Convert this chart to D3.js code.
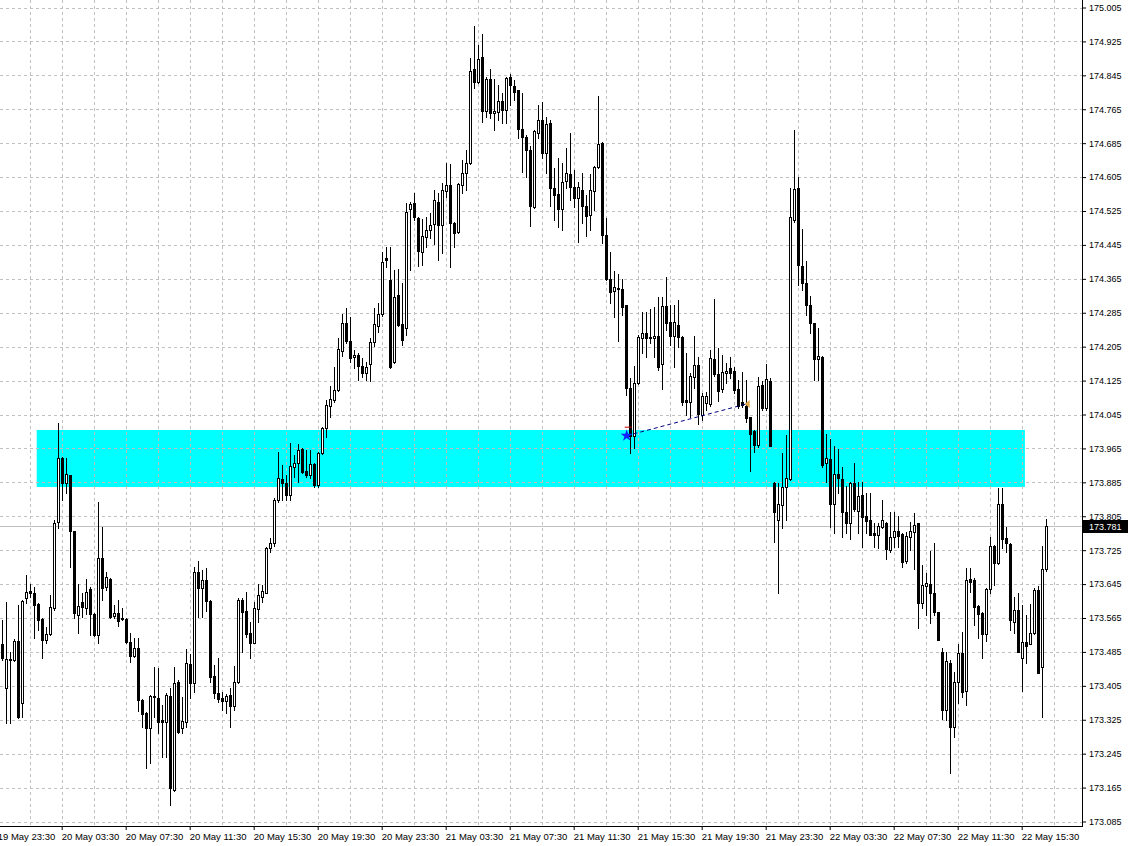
<!DOCTYPE html>
<html><head><meta charset="utf-8">
<script src="https://cdn.jsdelivr.net/npm/d3@7"></script>
<style>
html,body{margin:0;padding:0;background:#fff;}
svg{display:block;}
text{font-family:"Liberation Sans",Arial,sans-serif;}
</style></head><body>
<svg id="chart" width="1128" height="846"></svg>
<script>
// ---- data (15-minute candles, 19 May 23:45 .. 22 May 17:00) ----
const openP = [
173.504,173.400,173.469,173.466,173.511,173.365,173.613,173.629,173.624,173.599,
173.563,173.513,173.528,173.589,173.791,173.943,173.884,173.902,173.770,173.573,
173.603,173.589,173.634,173.575,173.525,173.707,173.639,173.658,173.570,173.577,
173.565,173.563,173.509,173.476,173.494,173.372,173.341,173.306,173.379,173.377,
173.325,173.320,173.381,173.160,173.414,173.306,173.320,173.457,173.412,173.674,
173.636,173.655,173.606,173.429,173.389,173.377,173.370,173.384,173.358,173.414,
173.608,173.582,173.530,173.506,173.587,173.615,173.624,173.730,173.742,173.844,
173.893,173.884,173.856,173.921,173.931,173.964,173.912,173.903,173.929,173.879,
173.954,174.013,174.065,174.079,174.103,174.195,174.261,174.219,174.181,174.186,
174.160,174.143,174.164,174.216,174.254,174.282,174.414,174.362,174.169,174.327,
174.259,174.249,174.530,174.544,174.509,174.428,174.464,174.480,174.495,174.546,
174.492,174.572,174.587,174.497,174.476,174.587,174.615,174.638,174.860,174.830,
174.888,174.761,174.836,174.756,174.759,174.785,174.763,174.841,174.820,174.810,
174.719,174.700,174.669,174.535,174.709,174.740,174.662,174.733,174.580,174.565,
174.530,174.596,174.613,174.582,174.556,174.575,174.537,174.516,174.572,174.629,
174.686,174.469,174.365,174.336,174.344,174.341,174.303,174.108,173.995,174.120,
174.226,174.237,174.228,174.226,174.231,174.164,174.301,174.263,174.230,174.256,
174.228,174.079,174.075,174.134,174.162,174.044,174.072,174.070,174.176,174.141,
174.105,174.143,174.155,174.148,174.105,174.075,174.065,174.039,174.006,173.973,
174.115,174.060,174.124,173.884,173.796,173.832,173.874,173.893,174.504,174.580,
174.395,174.355,174.303,174.261,174.176,174.181,173.931,173.940,173.834,173.905,
173.893,173.815,173.789,173.884,173.818,173.856,173.806,173.796,173.766,173.761,
173.780,173.789,173.726,173.756,173.770,173.763,173.700,173.756,173.768,173.789,
173.601,173.641,173.646,173.624,173.579,173.485,173.348,173.459,173.308,173.414,
173.483,173.393,173.658,173.655,173.594,173.577,173.528,173.634,173.735,173.695,
173.834,173.754,173.740,173.556,173.584,173.471,173.509,173.504,173.530,173.631,
173.450,173.681];
const highP = [
173.561,173.603,173.485,173.516,173.596,173.607,173.667,173.646,173.639,173.601,
173.565,173.544,173.619,173.796,174.025,173.945,173.943,173.903,173.771,173.646,
173.624,173.658,173.639,173.577,173.839,173.780,173.674,173.659,173.596,173.608,
173.589,173.565,173.530,173.518,173.518,173.374,173.344,173.384,173.450,173.447,
173.360,173.389,173.400,173.450,173.419,173.379,173.492,173.480,173.686,173.700,
173.679,173.683,173.607,173.454,173.471,173.391,173.386,173.400,173.452,173.613,
173.613,173.626,173.556,173.603,173.646,173.643,173.733,173.754,173.848,173.957,
173.926,173.903,173.978,173.950,173.976,173.966,173.961,173.961,173.931,173.957,
174.016,174.079,174.112,174.157,174.226,174.282,174.296,174.275,174.197,174.190,
174.179,174.169,174.226,174.296,174.308,174.429,174.440,174.440,174.386,174.388,
174.355,174.544,174.547,174.568,174.510,174.506,174.511,174.520,174.575,174.568,
174.591,174.638,174.636,174.499,174.591,174.645,174.669,174.886,174.962,174.917,
174.943,174.841,174.860,174.836,174.822,174.804,174.841,174.848,174.834,174.811,
174.804,174.705,174.679,174.716,174.775,174.782,174.747,174.740,174.627,174.650,
174.638,174.674,174.709,174.622,174.594,174.615,174.563,174.612,174.631,174.796,
174.688,174.509,174.429,174.384,174.377,174.365,174.304,174.131,174.160,174.233,
174.287,174.287,174.294,174.299,174.322,174.322,174.370,174.303,174.303,174.315,
174.229,174.190,174.143,174.231,174.181,174.096,174.098,174.197,174.317,174.202,
174.186,174.167,174.181,174.157,174.127,174.146,174.127,174.040,174.009,174.134,
174.124,174.164,174.131,173.886,173.884,173.954,173.997,174.579,174.716,174.605,
174.483,174.407,174.325,174.262,174.249,174.182,173.999,173.988,173.971,173.964,
173.921,173.877,173.886,173.931,173.886,173.886,173.860,173.860,173.789,173.789,
173.844,173.791,173.815,173.815,173.806,173.766,173.768,173.791,173.813,173.790,
173.690,173.672,173.723,173.742,173.580,173.495,173.485,173.466,173.438,173.504,
173.532,173.683,173.683,173.660,173.596,173.579,173.636,173.756,173.737,173.872,
173.872,173.780,173.741,173.615,173.624,173.596,173.573,173.599,173.636,173.641,
173.735,173.799];
const lowP = [
173.466,173.318,173.318,173.464,173.329,173.331,173.601,173.615,173.518,173.537,
173.471,173.506,173.525,173.584,173.777,173.844,173.860,173.686,173.565,173.530,
173.568,173.575,173.525,173.523,173.506,173.608,173.631,173.565,173.565,173.547,
173.561,173.506,173.461,173.473,173.346,173.308,173.211,173.223,173.331,173.294,
173.237,173.237,173.124,173.158,173.294,173.294,173.308,173.377,173.391,173.568,
173.568,173.582,173.414,173.377,173.367,173.348,173.341,173.308,173.348,173.412,
173.485,173.521,173.471,173.505,173.556,173.603,173.623,173.721,173.735,173.839,
173.844,173.844,173.843,173.898,173.886,173.907,173.898,173.896,173.874,173.874,
173.953,173.992,174.039,174.074,174.101,174.183,174.214,174.169,174.155,174.127,
174.134,174.127,174.124,174.207,174.240,174.278,174.393,174.155,174.167,174.254,
174.209,174.233,174.386,174.504,174.395,174.398,174.440,174.462,174.447,174.409,
174.426,174.558,174.393,174.440,174.473,174.568,174.575,174.636,174.815,174.827,
174.735,174.747,174.745,174.716,174.740,174.733,174.733,174.775,174.787,174.697,
174.617,174.605,174.490,174.532,174.697,174.650,174.615,174.537,174.504,174.487,
174.480,174.580,174.551,174.535,174.452,174.497,174.466,174.480,174.527,174.627,
174.450,174.362,174.308,174.275,174.219,174.280,174.091,173.954,173.966,174.117,
174.190,174.181,174.214,174.181,174.150,174.105,174.244,174.209,174.157,174.204,
174.067,174.044,174.039,174.108,174.023,174.032,174.056,174.065,174.136,174.077,
174.098,174.120,174.131,174.096,174.060,174.063,174.028,173.912,173.957,173.968,
174.056,174.056,173.970,173.744,173.624,173.777,173.796,173.891,174.499,174.351,
174.339,174.280,174.237,174.127,174.127,173.921,173.886,173.780,173.766,173.860,
173.756,173.766,173.752,173.818,173.766,173.733,173.766,173.760,173.733,173.730,
173.777,173.704,173.721,173.733,173.733,173.686,173.695,173.726,173.681,173.542,
173.589,173.573,173.554,173.573,173.512,173.327,173.325,173.200,173.285,173.365,
173.379,173.360,173.626,173.549,173.518,173.471,173.511,173.624,173.643,173.693,
173.730,173.721,173.537,173.530,173.484,173.393,173.459,173.503,173.527,173.435,
173.331,173.676];
const closeP = [
173.471,173.469,173.466,173.511,173.331,173.606,173.626,173.624,173.596,173.561,
173.513,173.528,173.591,173.789,173.943,173.884,173.905,173.770,173.577,173.594,
173.591,173.626,173.575,173.525,173.707,173.636,173.662,173.568,173.577,173.559,
173.563,173.509,173.476,173.494,173.372,173.339,173.306,173.381,173.381,173.320,
173.320,173.384,173.164,173.412,173.297,173.322,173.459,173.412,173.674,173.636,
173.655,173.606,173.426,173.389,173.374,173.370,173.381,173.358,173.414,173.608,
173.579,173.528,173.506,173.589,173.619,173.629,173.730,173.742,173.844,173.896,
173.884,173.856,173.924,173.931,173.961,173.910,173.903,173.929,173.879,173.954,
174.013,174.067,174.081,174.103,174.200,174.261,174.219,174.179,174.186,174.160,
174.143,174.157,174.216,174.259,174.282,174.405,174.409,174.157,174.322,174.256,
174.221,174.523,174.542,174.511,174.431,174.466,174.480,174.492,174.551,174.492,
174.575,174.587,174.497,174.473,174.589,174.615,174.638,174.855,174.830,174.884,
174.761,174.836,174.756,174.761,174.785,174.763,174.839,174.822,174.806,174.719,
174.700,174.669,174.537,174.714,174.740,174.662,174.730,174.580,174.563,174.530,
174.594,174.615,174.582,174.556,174.582,174.537,174.513,174.575,174.629,174.683,
174.469,174.365,174.334,174.346,174.341,174.299,174.108,173.995,174.120,174.228,
174.237,174.226,174.226,174.231,174.157,174.301,174.261,174.230,174.263,174.228,
174.075,174.075,174.136,174.162,174.046,174.089,174.089,174.179,174.141,174.101,
174.146,174.148,174.143,174.103,174.065,174.067,174.037,173.999,173.973,174.112,
174.060,174.129,173.971,173.815,173.834,173.874,173.896,174.511,174.577,174.398,
174.355,174.303,174.261,174.176,174.183,173.926,173.943,173.834,173.905,173.896,
173.815,173.789,173.884,173.822,173.853,173.803,173.794,173.761,173.761,173.782,
173.796,173.728,173.756,173.770,173.759,173.697,173.759,173.770,173.785,173.601,
173.643,173.648,173.624,173.579,173.513,173.348,173.464,173.308,173.414,173.483,
173.391,173.655,173.650,173.591,173.575,173.528,173.634,173.735,173.695,173.834,
173.752,173.742,173.561,173.584,173.485,173.509,173.499,173.530,173.631,173.436,
173.681,173.781];

const priceTicks = [175.005,174.925,174.845,174.765,174.685,174.605,174.525,174.445,174.365,
  174.285,174.205,174.125,174.045,173.965,173.885,173.805,173.725,173.645,173.565,173.485,
  173.405,173.325,173.245,173.165,173.085];
const timeLabels = ["19 May 23:30","20 May 03:30","20 May 07:30","20 May 11:30","20 May 15:30",
  "20 May 19:30","20 May 23:30","21 May 03:30","21 May 07:30","21 May 11:30","21 May 15:30",
  "21 May 19:30","21 May 23:30","22 May 03:30","22 May 07:30","22 May 11:30","22 May 15:30"];
const timeLabelBars = [-1,15,31,47,63,79,95,111,127,143,159,175,191,207,223,239,255];
const currentPrice = 173.781;
// support zone rectangle: [startBar, endBar], [top price, bottom price]
const zoneBars = [8.75, 255.8];
const zonePrices = [174.0085, 173.874];
// dashed trend line: bars and prices
const trendBars = [156.25, 186.25];
const trendPrices = [173.995, 174.070];

// ---- drawing ----
const W = 1128, H = 846, plotR = 1082, plotB = 826;
const svg = d3.select("#chart");
svg.append("rect").attr("width", W).attr("height", H).attr("fill", "#fff");

const x = d3.scaleLinear().domain([0, 261]).range([1.7, 1045.7]);
const y = d3.scaleLinear().domain([173.085, 175.005]).range([821.5, 7.5]);
const px = v => Math.round(x(v));
const py = v => Math.round(y(v));

svg.append("defs").append("clipPath").attr("id", "plotclip")
  .append("rect").attr("x", 0).attr("y", 0).attr("width", plotR).attr("height", plotB);
const plot = svg.append("g").attr("clip-path", "url(#plotclip)");

// zone
plot.append("rect")
  .attr("x", x(zoneBars[0])).attr("width", x(zoneBars[1]) - x(zoneBars[0]))
  .attr("y", y(zonePrices[0])).attr("height", y(zonePrices[1]) - y(zonePrices[0]))
  .attr("fill", "#00ffff");

// grid
const grid = plot.append("g").attr("stroke", "#c0c0c0").attr("stroke-dasharray", "3,3")
  .attr("shape-rendering", "crispEdges");
grid.selectAll("line.h").data(priceTicks).join("line").attr("class", "h")
  .attr("x1", 0).attr("x2", plotR)
  .attr("y1", d => py(d) + 0.5).attr("y2", d => py(d) + 0.5);
grid.selectAll("line.v").data(d3.range(7, 271, 8)).join("line").attr("class", "v")
  .attr("y1", 0).attr("y2", plotB)
  .attr("x1", d => px(d) + 0.5).attr("x2", d => px(d) + 0.5);

// current price line
plot.append("line").attr("x1", 0).attr("x2", plotR)
  .attr("y1", py(currentPrice) + 0.5).attr("y2", py(currentPrice) + 0.5)
  .attr("stroke", "#c0c0c0").attr("shape-rendering", "crispEdges");

// candles
const candles = openP.map((o, i) => ({i, o, h: highP[i], l: lowP[i], c: closeP[i]}));
const cg = plot.append("g").attr("shape-rendering", "crispEdges");
cg.selectAll("line.wick").data(candles).join("line").attr("class", "wick")
  .attr("x1", d => px(d.i) + 0.5).attr("x2", d => px(d.i) + 0.5)
  .attr("y1", d => py(d.h)).attr("y2", d => py(d.l) + 1)
  .attr("stroke", "#000");
cg.selectAll("rect.body").data(candles).join("rect").attr("class", "body")
  .attr("x", d => px(d.i) - 0.5).attr("width", 2)
  .attr("y", d => py(Math.max(d.o, d.c)) + 0.5)
  .attr("height", d => Math.max(0, py(Math.min(d.o, d.c)) - py(Math.max(d.o, d.c))))
  .attr("fill", d => d.c >= d.o ? "#fff" : "#000")
  .attr("stroke", "#000");

// trend line and markers
plot.append("line")
  .attr("x1", x(trendBars[0])).attr("y1", y(trendPrices[0]))
  .attr("x2", x(trendBars[1])).attr("y2", y(trendPrices[1]))
  .attr("stroke", "#000080").attr("stroke-width", 1).attr("stroke-dasharray", "4,3");
plot.append("line")
  .attr("x1", x(trendBars[0]) - 2).attr("x2", x(trendBars[0]) + 5)
  .attr("y1", y(trendPrices[0]) - 8.5).attr("y2", y(trendPrices[0]) - 8.5)
  .attr("stroke", "#c00000");
plot.append("path")
  .attr("d", d3.symbol(d3.symbolStar, 45)())
  .attr("transform", `translate(${x(trendBars[0])},${y(trendPrices[0])})`)
  .attr("fill", "#1020ff");
const tx = x(trendBars[1]), ty = y(trendPrices[1]);
plot.append("path")
  .attr("d", `M${tx - 2},${ty} L${tx + 3},${ty - 4} L${tx + 3},${ty + 4} Z`)
  .attr("fill", "#e0a850");

// axes frame
svg.append("line").attr("x1", plotR + 0.5).attr("x2", plotR + 0.5).attr("y1", 0).attr("y2", plotB + 1)
  .attr("stroke", "#000").attr("shape-rendering", "crispEdges");
svg.append("line").attr("x1", 0).attr("x2", plotR + 1).attr("y1", plotB + 0.5).attr("y2", plotB + 0.5)
  .attr("stroke", "#000").attr("shape-rendering", "crispEdges");

// right price axis
const yAxis = d3.axisRight(y).tickValues(priceTicks).tickFormat(d3.format(".3f"))
  .tickSize(4).tickPadding(3);
const ya = svg.append("g").attr("transform", `translate(${plotR},0)`).call(yAxis);
ya.select(".domain").remove();
ya.selectAll("text").attr("font-size", "9px").attr("font-family", "Liberation Sans, Arial, sans-serif").attr("fill", "#000");
ya.selectAll("line").attr("stroke", "#000");

// bottom time axis
const xAxis = d3.axisBottom(x).tickValues(timeLabelBars)
  .tickFormat((d, i) => timeLabels[i]).tickSize(4).tickPadding(3);
const xa = svg.append("g").attr("transform", `translate(0,${plotB})`).call(xAxis);
xa.select(".domain").remove();
xa.selectAll("text").attr("text-anchor", "start").attr("dx", "-0.5")
  .attr("font-size", "9.5px").attr("font-family", "Liberation Sans, Arial, sans-serif").attr("fill", "#000");
xa.selectAll("line").attr("stroke", "#000");

// current price tag
const cpY = py(currentPrice) + 0.5;
svg.append("rect").attr("x", plotR + 1).attr("y", cpY - 6.5).attr("width", 45).attr("height", 13).attr("fill", "#000");
svg.append("text").attr("x", plotR + 7).attr("y", cpY).attr("dy", "0.34em")
  .attr("font-size", "9px").attr("fill", "#fff").text(currentPrice.toFixed(3));
</script>
</body></html>
